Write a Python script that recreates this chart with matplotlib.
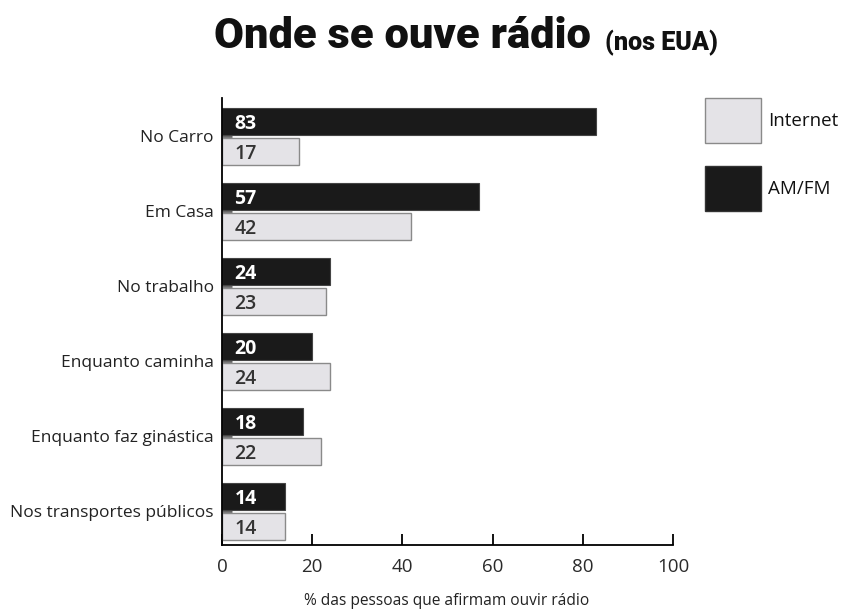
import matplotlib.pyplot as plt
from matplotlib.patches import Rectangle
from matplotlib import font_manager
import numpy as np

# Data
categories = ["No Carro", "Em Casa", "No trabalho", "Enquanto caminha",
              "Enquanto faz ginástica", "Nos transportes públicos"]
am_fm = [83, 57, 24, 20, 18, 14]
internet = [17, 42, 23, 24, 22, 14]
x_ticks = [0, 20, 40, 60, 80, 100]

DARK = "#1a1a1a"
LIGHT = "#e4e3e7"
EDGE = "#8a8a8a"

names = {f.name for f in font_manager.fontManager.ttflist}
title_family = "Roboto" if "Roboto" in names else "DejaVu Sans"
body_family = "Open Sans" if "Open Sans" in names else "DejaVu Sans"
plt.rcParams["font.family"] = body_family

fig = plt.figure(figsize=(8.42, 6.11), dpi=100)
ax = fig.add_axes([222 / 842, 66 / 611, (673 - 222) / 842, (545 - 98) / 611])

y = np.arange(len(categories))
h = 0.36
ax.barh(y - 0.2, am_fm, height=h, color=DARK, edgecolor="#444444", linewidth=0.8, zorder=2)
ax.barh(y + 0.2, internet, height=h, color=LIGHT, edgecolor=EDGE, linewidth=1.0, zorder=2)

for yi, a, b in zip(y, am_fm, internet):
    ax.annotate(str(a), xy=(0, yi - 0.2), xytext=(9, 0), textcoords="offset points",
                ha="left", va="center_baseline", color="white", fontsize=14,
                fontweight="bold", zorder=3)
    ax.annotate(str(b), xy=(0, yi + 0.2), xytext=(9, 0), textcoords="offset points",
                ha="left", va="center_baseline", color="#333333", fontsize=14,
                fontweight="semibold", zorder=3)

ax.set_xlim(0, 100)
ax.set_ylim(5.453, -0.507)
ax.set_xticks(x_ticks)
ax.set_xticklabels([str(t) for t in x_ticks], fontsize=13.5, color="#2a2a2a")
ax.set_yticks(y)
ax.set_yticklabels(categories, fontsize=12.5, color="#222222")
ax.tick_params(axis="x", direction="in", length=8, width=1.3, pad=9)
ax.tick_params(axis="y", direction="in", length=7, width=2, color="#666666", pad=6)

for side in ("top", "right"):
    ax.spines[side].set_visible(False)
ax.spines["left"].set_linewidth(1.3)
ax.spines["bottom"].set_linewidth(1.3)

fig.text(447 / 842, 1 - 601 / 611, "% das pessoas que afirmam ouvir rádio",
         fontsize=11.2, color="#222222", ha="center", va="center")


def fit_width(txt, width_px):
    # shrink/grow the font so the text spans the wanted pixel width
    r = fig.canvas.get_renderer()
    w = txt.get_window_extent(renderer=r).width
    txt.set_fontsize(txt.get_fontsize() * width_px / w)


# Title
title = fig.text(214 / 842, 1 - 37 / 611, "Onde se ouve rádio", fontsize=30,
                 fontweight="black", family=title_family, ha="left", va="center",
                 color="#111111")
sub = fig.text(718 / 842, 1 - 43 / 611, "(nos EUA)", fontsize=13, fontweight="black",
               family=title_family, ha="right", va="center", color="#111111")
fit_width(title, 376)
fit_width(sub, 113)

# Legend
for top, color, edge, label in [(98, LIGHT, EDGE, "Internet"), (166, DARK, "#333333", "AM/FM")]:
    fig.patches.append(Rectangle((705 / 842, 1 - (top + 45) / 611), 56 / 842, 45 / 611,
                                 transform=fig.transFigure, facecolor=color,
                                 edgecolor=edge, linewidth=1))
    fig.text(768 / 842, 1 - (top + 23) / 611, label, fontsize=13.5, ha="left",
             va="center", color="#111111")

fig.savefig("out.png", dpi=100)
